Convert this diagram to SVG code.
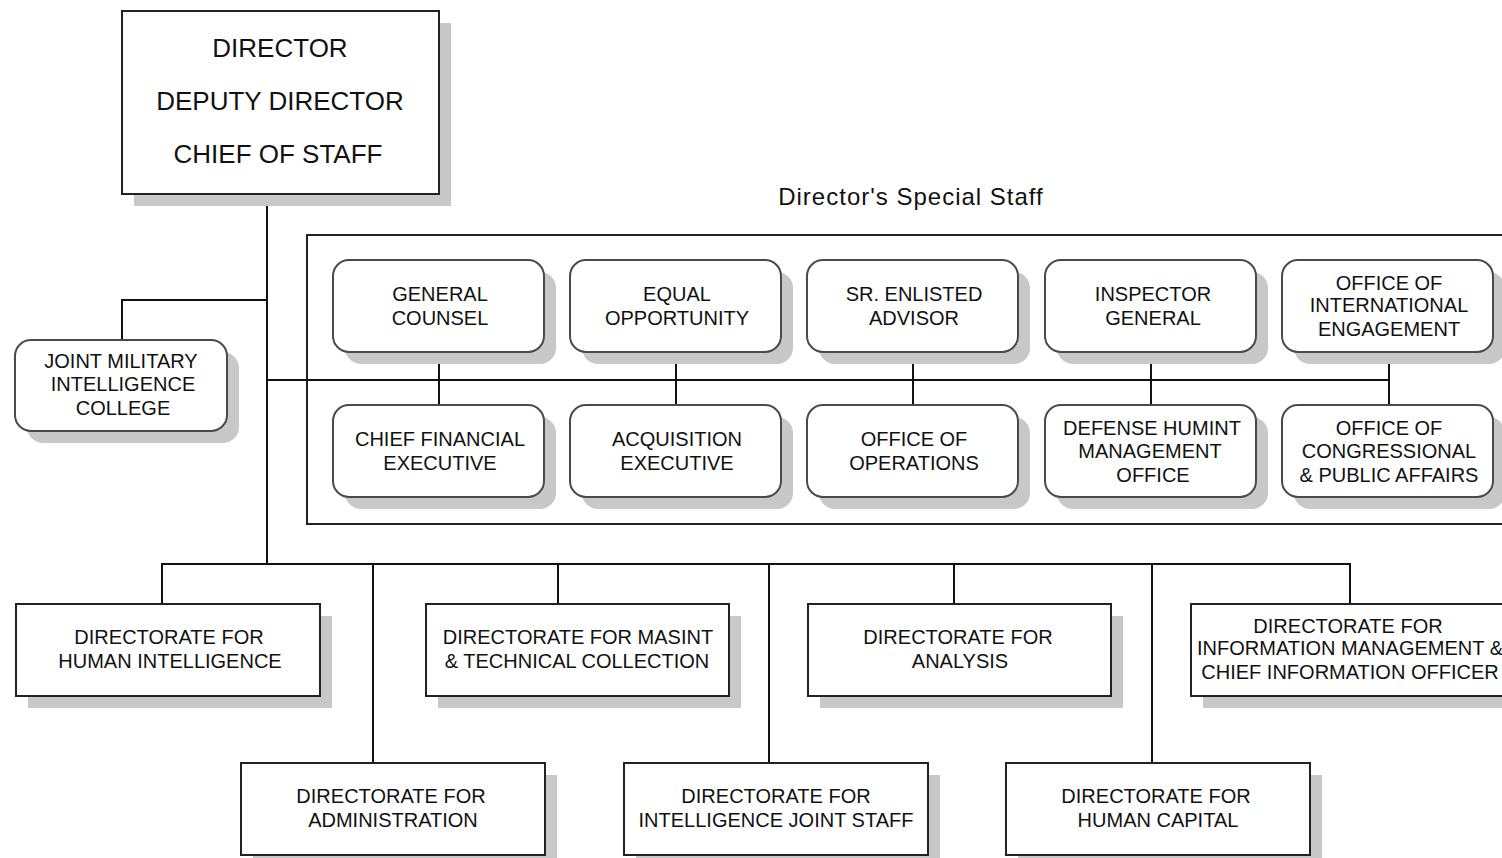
<svg xmlns="http://www.w3.org/2000/svg" width="1502" height="858" viewBox="0 0 1502 858">
<style>
  .box { fill: #ffffff; stroke: #222222; stroke-width: 2; }
  .rbox { fill: #ffffff; stroke: #4a4a4a; stroke-width: 2; }
  .shadow { fill: #c8c8c8; }
  .line { stroke: #111111; stroke-width: 2; fill: none; }
  .frame { fill: none; stroke: #222222; stroke-width: 2; }
  text { font-family: "Liberation Sans", Arial, sans-serif; fill: #111111; text-anchor: middle; }
  .t { font-size: 20px; }
  .big { font-size: 26px; }
  .title { font-size: 24px; letter-spacing: 1px; }
</style>
<rect x="0" y="0" width="1502" height="858" fill="#ffffff"/>

<g id="special-staff-frame">
  <rect class="frame" x="307" y="235" width="1300" height="289"/>
  <text class="title" x="911" y="205">Director's Special Staff</text>
</g>

<g id="connectors">
  <path class="line" d="M267 194 V564"/>
  <path class="line" d="M122 340 V300 H267"/>
  <path class="line" d="M267 380 H1389"/>
  <path class="line" d="M439 352 V405 M676 352 V405 M913 352 V405 M1151 352 V405 M1389 352 V405"/>
  <path class="line" d="M162 604 V564 H1350 V604"/>
  <path class="line" d="M558 564 V604 M954 564 V604"/>
  <path class="line" d="M373 564 V763 M769 564 V763 M1152 564 V763"/>
</g>

<g id="director">
  <rect class="shadow" x="134" y="23" width="317" height="183"/>
  <rect class="box" x="122" y="11" width="317" height="183"/>
  <text class="big" x="280" y="57">DIRECTOR</text>
  <text class="big" x="280" y="110">DEPUTY DIRECTOR</text>
  <text class="big" x="278" y="163">CHIEF OF STAFF</text>
</g>

<g id="jmic">
  <rect class="shadow" x="27" y="352" width="212" height="91" rx="16"/>
  <rect class="rbox" x="15" y="340" width="212" height="91" rx="16"/>
  <text class="t" x="121" y="368">JOINT MILITARY</text>
  <text class="t" x="123" y="391">INTELLIGENCE</text>
  <text class="t" x="123" y="415">COLLEGE</text>
</g>

<g id="general-counsel">
  <rect class="shadow" x="345" y="272" width="211" height="92" rx="16"/>
  <rect class="rbox" x="333" y="260" width="211" height="92" rx="16"/>
  <text class="t" x="440" y="301">GENERAL</text>
  <text class="t" x="440" y="325">COUNSEL</text>
</g>
<g id="equal-opportunity">
  <rect class="shadow" x="582" y="272" width="211" height="92" rx="16"/>
  <rect class="rbox" x="570" y="260" width="211" height="92" rx="16"/>
  <text class="t" x="677" y="301">EQUAL</text>
  <text class="t" x="677" y="325">OPPORTUNITY</text>
</g>
<g id="sr-enlisted-advisor">
  <rect class="shadow" x="819" y="272" width="211" height="92" rx="16"/>
  <rect class="rbox" x="807" y="260" width="211" height="92" rx="16"/>
  <text class="t" x="914" y="301">SR. ENLISTED</text>
  <text class="t" x="914" y="325">ADVISOR</text>
</g>
<g id="inspector-general">
  <rect class="shadow" x="1057" y="272" width="211" height="92" rx="16"/>
  <rect class="rbox" x="1045" y="260" width="211" height="92" rx="16"/>
  <text class="t" x="1153" y="301">INSPECTOR</text>
  <text class="t" x="1153" y="325">GENERAL</text>
</g>
<g id="international-engagement">
  <rect class="shadow" x="1294" y="272" width="211" height="92" rx="16"/>
  <rect class="rbox" x="1282" y="260" width="211" height="92" rx="16"/>
  <text class="t" x="1389" y="290">OFFICE OF</text>
  <text class="t" x="1389" y="312">INTERNATIONAL</text>
  <text class="t" x="1389" y="336">ENGAGEMENT</text>
</g>

<g id="chief-financial-executive">
  <rect class="shadow" x="345" y="417" width="211" height="92" rx="16"/>
  <rect class="rbox" x="333" y="405" width="211" height="92" rx="16"/>
  <text class="t" x="440" y="446">CHIEF FINANCIAL</text>
  <text class="t" x="440" y="470">EXECUTIVE</text>
</g>
<g id="acquisition-executive">
  <rect class="shadow" x="582" y="417" width="211" height="92" rx="16"/>
  <rect class="rbox" x="570" y="405" width="211" height="92" rx="16"/>
  <text class="t" x="677" y="446">ACQUISITION</text>
  <text class="t" x="677" y="470">EXECUTIVE</text>
</g>
<g id="office-of-operations">
  <rect class="shadow" x="819" y="417" width="211" height="92" rx="16"/>
  <rect class="rbox" x="807" y="405" width="211" height="92" rx="16"/>
  <text class="t" x="914" y="446">OFFICE OF</text>
  <text class="t" x="914" y="470">OPERATIONS</text>
</g>
<g id="defense-humint">
  <rect class="shadow" x="1057" y="417" width="211" height="92" rx="16"/>
  <rect class="rbox" x="1045" y="405" width="211" height="92" rx="16"/>
  <text class="t" x="1152" y="435">DEFENSE HUMINT</text>
  <text class="t" x="1150" y="458">MANAGEMENT</text>
  <text class="t" x="1153" y="482">OFFICE</text>
</g>
<g id="congressional-public-affairs">
  <rect class="shadow" x="1294" y="417" width="211" height="92" rx="16"/>
  <rect class="rbox" x="1282" y="405" width="211" height="92" rx="16"/>
  <text class="t" x="1389" y="435">OFFICE OF</text>
  <text class="t" x="1389" y="458">CONGRESSIONAL</text>
  <text class="t" x="1389" y="482">&amp; PUBLIC AFFAIRS</text>
</g>

<g id="dir-human-intelligence">
  <rect class="shadow" x="28" y="616" width="304" height="92"/>
  <rect class="box" x="16" y="604" width="304" height="92"/>
  <text class="t" x="169" y="644">DIRECTORATE FOR</text>
  <text class="t" x="170" y="668">HUMAN INTELLIGENCE</text>
</g>
<g id="dir-masint">
  <rect class="shadow" x="438" y="616" width="303" height="92"/>
  <rect class="box" x="426" y="604" width="303" height="92"/>
  <text class="t" x="578" y="644">DIRECTORATE FOR MASINT</text>
  <text class="t" x="577" y="668">&amp; TECHNICAL COLLECTION</text>
</g>
<g id="dir-analysis">
  <rect class="shadow" x="820" y="616" width="303" height="92"/>
  <rect class="box" x="808" y="604" width="303" height="92"/>
  <text class="t" x="958" y="644">DIRECTORATE FOR</text>
  <text class="t" x="960" y="668">ANALYSIS</text>
</g>
<g id="dir-information-management">
  <rect class="shadow" x="1203" y="616" width="320" height="92"/>
  <rect class="box" x="1191" y="604" width="320" height="92"/>
  <text class="t" x="1348" y="633">DIRECTORATE FOR</text>
  <text class="t" x="1350" y="655">INFORMATION MANAGEMENT &amp;</text>
  <text class="t" x="1350" y="679">CHIEF INFORMATION OFFICER</text>
</g>

<g id="dir-administration">
  <rect class="shadow" x="253" y="775" width="304" height="92"/>
  <rect class="box" x="241" y="763" width="304" height="92"/>
  <text class="t" x="391" y="803">DIRECTORATE FOR</text>
  <text class="t" x="393" y="827">ADMINISTRATION</text>
</g>
<g id="dir-intelligence-joint-staff">
  <rect class="shadow" x="636" y="775" width="304" height="92"/>
  <rect class="box" x="624" y="763" width="304" height="92"/>
  <text class="t" x="776" y="803">DIRECTORATE FOR</text>
  <text class="t" x="776" y="827">INTELLIGENCE JOINT STAFF</text>
</g>
<g id="dir-human-capital">
  <rect class="shadow" x="1018" y="775" width="304" height="92"/>
  <rect class="box" x="1006" y="763" width="304" height="92"/>
  <text class="t" x="1156" y="803">DIRECTORATE FOR</text>
  <text class="t" x="1158" y="827">HUMAN CAPITAL</text>
</g>
</svg>
